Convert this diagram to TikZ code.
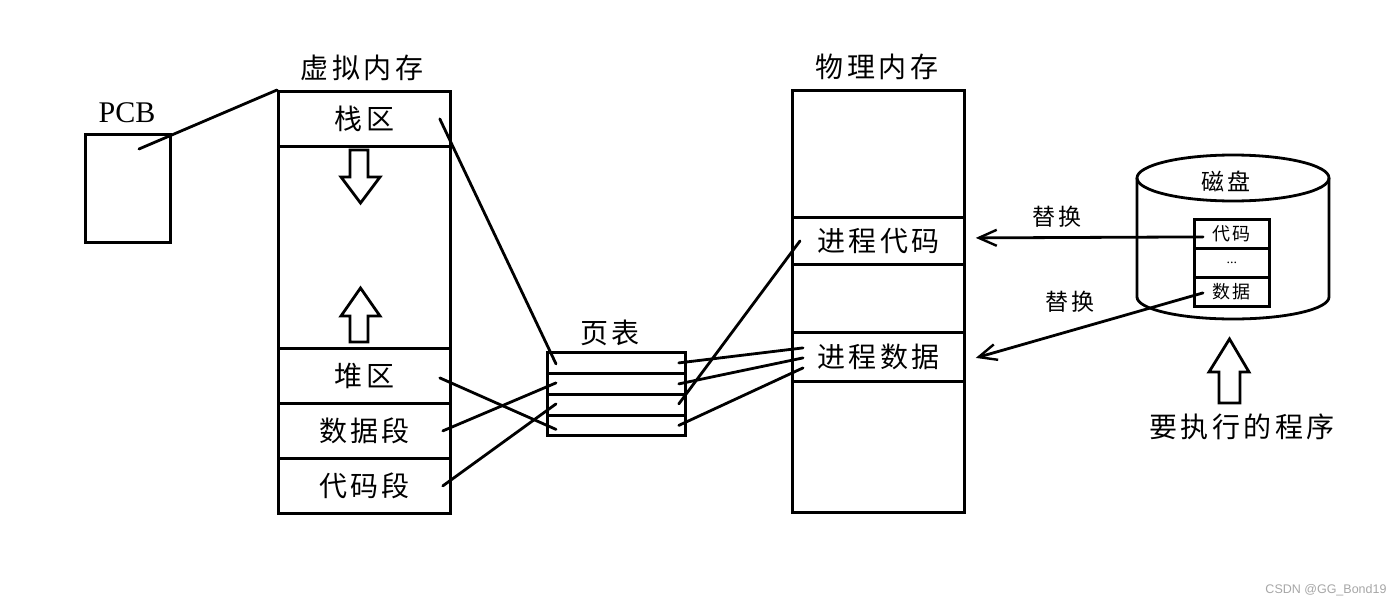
\documentclass[tikz,border=0pt]{standalone}
\usepackage{fontspec}
\setmainfont{Liberation Serif}
\newfontfamily\cjk[LetterSpace=12]{Noto Sans CJK SC}
\newfontfamily\wmfont{Liberation Sans}
\usetikzlibrary{arrows.meta,calc}
\begin{document}
\begin{tikzpicture}[x=1pt,y=-1pt,
  lw/.style={line width=2.8pt},
  box/.style={draw, lw, inner sep=0pt, anchor=north west},
  big/.style={font=\cjk\fontsize{28}{30}\selectfont, inner sep=0pt},
  mid/.style={font=\cjk\fontsize{23}{26}\selectfont, inner sep=0pt},
  small/.style={font=\cjk\fontsize{18}{20}\selectfont, inner sep=0pt},
  conn/.style={lw, line cap=round},
  arr/.style={conn, -{Straight Barb[length=18pt,width=16pt,line width=2.4pt]}},
  hollow/.style={lw, fill=white, line join=miter}
]
\useasboundingbox (0,0) rectangle (1400,605);

% PCB
\node[box, minimum width=85pt, minimum height=108pt] (pcb) at (84,133) {};
\node[font=\fontsize{30}{32}\selectfont, inner sep=0pt] (pcbl) at (127,113) {PCB};
\coordinate (pcbin) at (139,149);

% virtual memory
\node[big] (vmt) at (362,68) {虚拟内存};
\node[box, minimum width=172pt, minimum height=422pt] (vm) at (277,90) {};
\node[box, big, minimum width=172pt, minimum height=55pt] (stack) at (277,90) {栈区};
\node[box, big, minimum width=172pt, minimum height=55pt] (heap) at (277,347) {堆区};
\node[box, big, minimum width=172pt, minimum height=55pt] (data) at (277,402) {数据段};
\node[box, big, minimum width=172pt, minimum height=55pt] (code) at (277,457) {代码段};
\draw[conn] (pcbin) -- (vm.north west);

% hollow arrows in virtual memory
\draw[hollow] (350,150) -- (368,150) -- (368,177) -- (380,177) -- (360.5,203) -- (341,177) -- (350,177) -- cycle;
\draw[hollow] (350,342) -- (368,342) -- (368,316) -- (380,316) -- (360.5,288) -- (341,316) -- (350,316) -- cycle;

% page table
\node[big] (ptt) at (610,333) {页表};
\node[box, minimum width=138pt, minimum height=21pt] (pt1) at (546,351) {};
\node[box, minimum width=138pt, minimum height=21pt] (pt2) at (546,372) {};
\node[box, minimum width=138pt, minimum height=21pt] (pt3) at (546,393) {};
\node[box, minimum width=138pt, minimum height=20pt] (pt4) at (546,414) {};

% physical memory
\node[big] (pmt) at (877,67) {物理内存};
\node[box, minimum width=172pt, minimum height=422pt] (pm) at (791,89) {};
\node[box, big, minimum width=172pt, minimum height=47pt] (pcode) at (791,216) {进程代码};
\node[box, big, minimum width=172pt, minimum height=49pt] (pdata) at (791,331) {进程数据};

% connectors virtual -> page table
\draw[conn] ($(stack.east)+(-12,0)$) -- ($(pt1.west)+(10,1)$);
\draw[conn] ($(heap.east)+(-12,2)$) -- ($(pt4.west)+(10,4)$);
\draw[conn] ($(data.east)+(-9,0)$) -- ($(pt2.west)+(10,-1)$);
\draw[conn] ($(code.east)+(-9,0)$) -- ($(pt3.west)+(10,-1)$);

% connectors page table -> physical
\draw[conn] ($(pt1.east)+(-8,0)$) -- ($(pdata.west)+(12,-9)$);
\draw[conn] ($(pt2.east)+(-8,0)$) -- ($(pdata.west)+(12,1)$);
\draw[conn] ($(pt3.east)+(-8,-1)$) -- ($(pcode.west)+(9,0)$);
\draw[conn] ($(pt4.east)+(-8,0)$) -- ($(pdata.west)+(12,11)$);

% disk
\draw[lw] (1233,178) ellipse [x radius=96pt, y radius=23pt];
\draw[lw] (1137,178) -- (1137,297) arc[start angle=180, end angle=360, x radius=96pt, y radius=22pt] -- (1329,178);
\node[mid] (diskt) at (1226,181) {磁盘};
\node[box, small, minimum width=75pt, minimum height=29pt] (dcode) at (1193,218) {代码};
\node[box, minimum width=75pt, minimum height=29pt, font=\fontsize{14}{16}\selectfont] (ddots) at (1193,247) {...};
\node[box, small, minimum width=75pt, minimum height=29pt] (ddata) at (1193,276) {数据};

% replacement arrows
\draw[arr] ($(dcode.west)+(10,3)$) -- ($(pcode.east)+(10,-3)$);
\draw[arr] ($(ddata.west)+(10,1)$) -- ($(pdata.east)+(10,1)$);
\node[mid] (r1) at (1057,217) {替换};
\node[mid] (r2) at (1070,302) {替换};

% program to execute
\draw[hollow] (1219,403) -- (1240,403) -- (1240,372) -- (1249,372) -- (1229.5,339) -- (1209,372) -- (1219,372) -- cycle;
\node[big] (prog) at (1242,427) {要执行的程序};

% watermark
\node[font=\wmfont\fontsize{12.5}{14}\selectfont, text=black!35, inner sep=0pt] (wm) at (1326,590) {CSDN @GG\_Bond19};
\end{tikzpicture}
\end{document}
